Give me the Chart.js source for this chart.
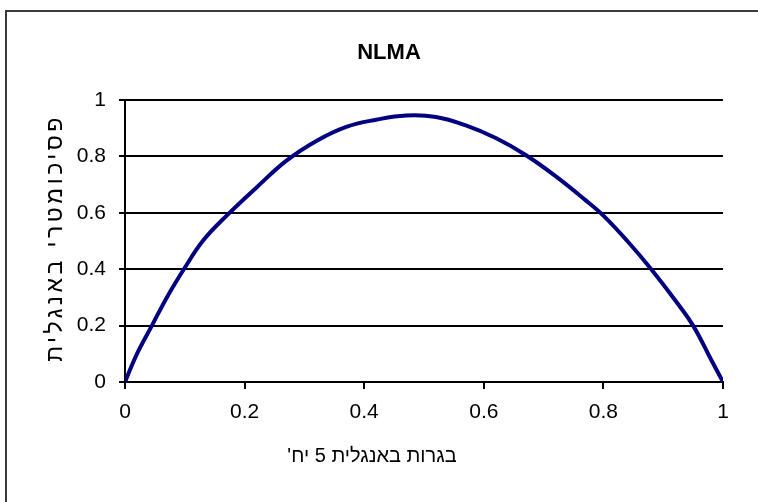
<!DOCTYPE html>
<html>
<head>
<meta charset="utf-8">
<script src="https://cdn.jsdelivr.net/npm/chart.js@4/dist/chart.umd.min.js"></script>
<style>
html,body{margin:0;padding:0;background:#fff;}
canvas{display:block;}
</style>
</head>
<body>
<canvas id="c" width="758" height="502" dir="rtl"></canvas>
<script>
const chartTitle = "NLMA";
const xAxisTitle = "בגרות באנגלית 5 יח'";
const yAxisTitle = "פסיכומטרי באנגלית";
const xTickLabels = ["0", "0.2", "0.4", "0.6", "0.8", "1"];
const yTickLabels = ["0", "0.2", "0.4", "0.6", "0.8", "1"];
const xValues = [0, 0.02, 0.045, 0.07, 0.1, 0.13, 0.17, 0.22, 0.27, 0.32, 0.37, 0.42, 0.47, 0.52, 0.57, 0.62, 0.67, 0.72, 0.77, 0.8, 0.84, 0.88, 0.92, 0.95, 0.98, 1];
const yValues = [0, 0.1, 0.2, 0.3, 0.405, 0.5, 0.59, 0.69, 0.785, 0.855, 0.905, 0.93, 0.945, 0.94, 0.91, 0.865, 0.805, 0.73, 0.645, 0.59, 0.5, 0.4, 0.29, 0.2, 0.08, 0];

const points = xValues.map((x, i) => ({x: x, y: yValues[i]}));
const FONT = "'Liberation Sans', Arial, sans-serif";

const frame = {
  id: 'frame',
  beforeDraw(chart) {
    const ctx = chart.ctx;
    ctx.save();
    ctx.fillStyle = '#fff';
    ctx.fillRect(0, 0, chart.width, chart.height);
    ctx.strokeStyle = '#3a3a3a';
    ctx.lineWidth = 2;
    ctx.strokeRect(6, 11, 900, 900);
    ctx.restore();
  }
};

const axisTitles = {
  id: 'axisTitles',
  afterDraw(chart) {
    const ctx = chart.ctx;
    const area = chart.chartArea;
    ctx.save();
    ctx.direction = 'rtl';
    ctx.fillStyle = '#000';
    ctx.font = "20px " + FONT;
    ctx.textAlign = 'center';
    ctx.textBaseline = 'middle';
    ctx.fillText(xAxisTitle, 372, 456);
    ctx.translate(56, (area.top + area.bottom) / 2 - 3);
    ctx.rotate(-Math.PI / 2);
    ctx.font = "23px " + FONT;
    if ('letterSpacing' in ctx) ctx.letterSpacing = '3.5px';
    ctx.fillText(yAxisTitle, 0, 0);
    ctx.restore();
  }
};

new Chart(document.getElementById('c'), {
  type: 'scatter',
  data: {
    datasets: [{
      data: points,
      showLine: true,
      borderColor: '#000080',
      borderWidth: 4,
      pointRadius: 0,
      pointHoverRadius: 0,
      tension: 0.4,
      fill: false
    }]
  },
  options: {
    responsive: false,
    animation: false,
    devicePixelRatio: 1,
    layout: { padding: { left: 55, top: 0, right: 35, bottom: 0 } },
    plugins: {
      legend: { display: false },
      tooltip: { enabled: false },
      title: {
        display: true,
        text: chartTitle,
        color: '#000',
        font: { family: FONT, size: 22, weight: 'bold' },
        padding: { top: 40, bottom: 33.6 }
      }
    },
    scales: {
      x: {
        type: 'linear',
        min: 0, max: 1,
        afterFit(scale) { scale.height = 120; },
        ticks: {
          stepSize: 0.2,
          color: '#000',
          font: { family: FONT, size: 21 },
          padding: 11,
          maxRotation: 0,
          callback: (v, i) => xTickLabels[i]
        },
        grid: { display: true, drawOnChartArea: false, drawTicks: true, tickLength: 7, color: '#000', lineWidth: 2 },
        border: { display: true, color: '#000', width: 2 },
        title: { display: false }
      },
      y: {
        type: 'linear',
        min: 0, max: 1,
        afterFit(scale) { scale.width = 70; },
        ticks: {
          stepSize: 0.2,
          color: '#000',
          font: { family: FONT, size: 21 },
          padding: 13,
          callback: (v, i) => yTickLabels[i]
        },
        grid: { display: true, drawOnChartArea: true, drawTicks: true, tickLength: 6, color: '#000', lineWidth: 2 },
        border: { display: true, color: '#000', width: 2 },
        title: { display: false }
      }
    }
  },
  plugins: [frame, axisTitles]
});
</script>
</body>
</html>
